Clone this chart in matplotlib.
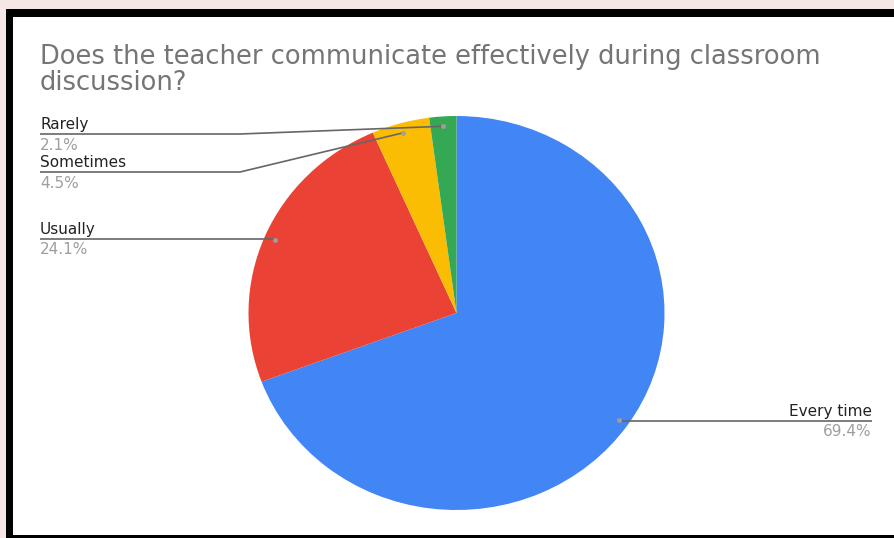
import numpy as np
import matplotlib
matplotlib.use("Agg")
import matplotlib.pyplot as plt
from matplotlib.patches import Rectangle

categories = ["Every time", "Usually", "Sometimes", "Rarely"]
values = [69.4, 24.1, 4.5, 2.1]
pct_labels = ["69.4%", "24.1%", "4.5%", "2.1%"]
colors = ["#4285F4", "#EA4335", "#FBBC04", "#34A853"]
title_lines = ["Does the teacher communicate effectively during classroom", "discussion?"]

W, H = 894, 538
fig = plt.figure(figsize=(W / 100, H / 100), dpi=100)
fig.patch.set_facecolor("#f6e6e6")

# background frame
bg = fig.add_axes([0, 0, 1, 1], zorder=1)
bg.set_xlim(0, W); bg.set_ylim(H, 0); bg.axis("off")
bg.add_patch(Rectangle((6, 9), W, H, facecolor="black", edgecolor="none"))
bg.add_patch(Rectangle((13, 17), W, 518, facecolor="white", edgecolor="none"))

# pie axes (slightly elliptical as in reference)
cx, cy, rx, ry = 456.5, 313, 208, 197
pie_ax = fig.add_axes([(cx - rx) / W, 1 - (cy + ry) / H, 2 * rx / W, 2 * ry / H], zorder=3)
wedges, _ = pie_ax.pie(values, colors=colors, startangle=90, counterclock=False,
                       wedgeprops=dict(linewidth=0))
pie_ax.set_aspect("auto")
pie_ax.set_xlim(-1, 1)
pie_ax.set_ylim(-1, 1)
pie_ax.axis("off")

# overlay axes in pixel coordinates (y down)
ov = fig.add_axes([0, 0, 1, 1], zorder=4)
ov.set_xlim(0, W)
ov.set_ylim(H, 0)
ov.axis("off")
ov.patch.set_visible(False)

font = "DejaVu Sans"
ov.text(40, 64, title_lines[0], fontsize=18.5, color="#757575", family=font, va="baseline")
ov.text(40, 90, title_lines[1], fontsize=18.5, color="#757575", family=font, va="baseline")

def dot_px(w, r=0.95):
    ang = np.deg2rad((w.theta1 + w.theta2) / 2)
    disp = pie_ax.transData.transform((r * np.cos(ang), r * np.sin(ang)))
    return ov.transData.inverted().transform(disp)

# label layout: (text x, line y, align, bend x)
layout = {
    "Every time": (872, 421, "right", None),
    "Usually": (40, 239, "left", None),
    "Sometimes": (40, 172, "left", 240),
    "Rarely": (40, 134, "left", 240),
}
line_col = "#666666"
for w, name, pct in zip(wedges, categories, pct_labels):
    dx, dy = dot_px(w)
    tx, ly, ha, bend = layout[name]
    if bend is None:
        xs = [dx, dx, tx]; ys = [dy, ly, ly]
    else:
        xs = [dx, bend, tx]; ys = [dy, ly, ly]
    ov.plot(xs, ys, color=line_col, lw=1.2, zorder=6, solid_capstyle="butt")
    ov.plot([dx], [dy], "o", ms=3.5, color="#9e9e9e", mec="none", zorder=7)
    ov.text(tx, ly - 5, name, fontsize=11, color="#222222", family=font, ha=ha, va="baseline", zorder=6)
    ov.text(tx, ly + 15.5, pct, fontsize=11, color="#9e9e9e", family=font, ha=ha, va="baseline", zorder=6)

fig.savefig("out.png", dpi=100, facecolor=fig.get_facecolor())
